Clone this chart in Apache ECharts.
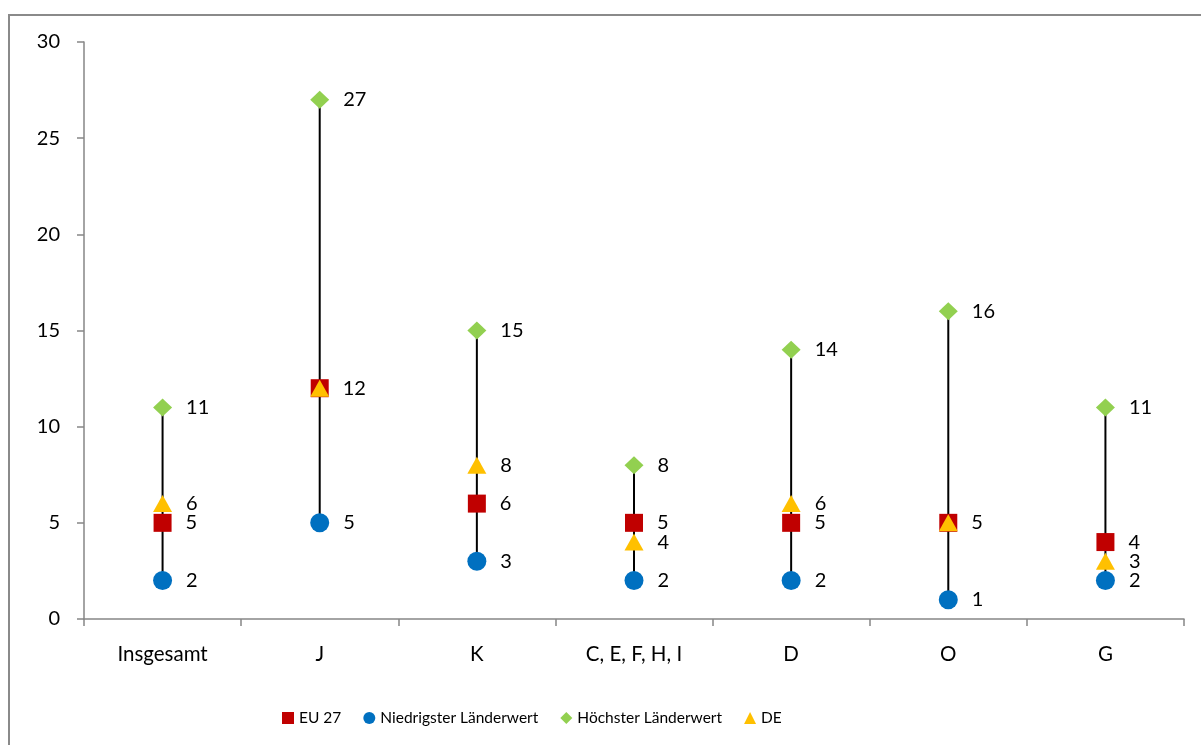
<!DOCTYPE html>
<html>
<head>
<meta charset="utf-8">
<script src="https://cdn.jsdelivr.net/npm/echarts@6/dist/echarts.min.js"></script>
<style>html,body{margin:0;padding:0;background:#fff}#c{width:1201px;height:745px}</style>
</head>
<body>
<div id="c"></div>
<script>
const categories = ['Insgesamt', 'J', 'K', 'C, E, F, H, I', 'D', 'O', 'G'];
const eu27 = [5, 12, 6, 5, 5, 5, 4];
const lowest = [2, 5, 3, 2, 2, 1, 2];
const highest = [11, 27, 15, 8, 14, 16, 11];
const de = [6, 12, 8, 4, 6, 5, 3];
const deLabelShown = [true, false, true, true, true, false, true];
const yTicks = { min: 0, max: 30, interval: 5 };

const FONT = 'Lato';
const labelStyle = { show: true, position: 'right', distance: 14, color: '#000', fontFamily: FONT, fontSize: 20 };

const chart = echarts.init(document.getElementById('c'), null, { renderer: 'canvas' });
chart.setOption({
  animation: false,
  backgroundColor: '#fff',
  graphic: [{
    type: 'rect', shape: { x: 9, y: 15, width: 1200, height: 740 },
    style: { fill: 'none', stroke: '#8a8a8a', lineWidth: 2 }, z: -1
  }],
  grid: { left: 84, right: 17, top: 42, bottom: 126 },
  legend: {
    left: 277, top: 705, itemWidth: 12, itemHeight: 12, itemGap: 22,
    textStyle: { fontFamily: FONT, fontSize: 15.5, color: '#000' },
    data: ['EU 27', 'Niedrigster Länderwert', 'Höchster Länderwert', 'DE']
  },
  xAxis: {
    type: 'category', data: categories, boundaryGap: true,
    axisLine: { lineStyle: { color: '#868686', width: 1.5 } },
    axisTick: { show: true, length: 7, lineStyle: { color: '#868686', width: 1.5 } },
    axisLabel: { fontFamily: FONT, fontSize: 20.5, color: '#000', margin: 25 }
  },
  yAxis: {
    type: 'value', min: yTicks.min, max: yTicks.max, interval: yTicks.interval,
    splitLine: { show: false },
    axisLine: { show: true, lineStyle: { color: '#868686', width: 1.5 } },
    axisTick: { show: true, length: 7, lineStyle: { color: '#868686', width: 1.5 } },
    axisLabel: { fontFamily: FONT, fontSize: 20, color: '#000', margin: 24 }
  },
  series: [
    {
      type: 'custom', name: 'range', silent: true, z: 1,
      data: categories.map((c, i) => [i, lowest[i], highest[i]]),
      renderItem: function (params, api) {
        const p1 = api.coord([api.value(0), api.value(1)]);
        const p2 = api.coord([api.value(0), api.value(2)]);
        return { type: 'line', shape: { x1: p1[0], y1: p1[1], x2: p2[0], y2: p2[1] }, style: { stroke: '#000', lineWidth: 2 } };
      }
    },
    {
      type: 'scatter', name: 'EU 27', z: 2, symbol: 'rect', symbolSize: 18,
      itemStyle: { color: '#C00000', opacity: 1 }, data: eu27, label: labelStyle
    },
    {
      type: 'scatter', name: 'Niedrigster Länderwert', z: 3, symbol: 'circle', symbolSize: 19,
      itemStyle: { color: '#0070C0', opacity: 1 }, data: lowest, label: labelStyle
    },
    {
      type: 'scatter', name: 'Höchster Länderwert', z: 4, symbol: 'diamond', symbolSize: [19, 18],
      itemStyle: { color: '#92D050', opacity: 1 }, data: highest, label: labelStyle
    },
    {
      type: 'scatter', name: 'DE', z: 5, symbol: 'triangle', symbolSize: [19, 17],
      itemStyle: { color: '#FFC000', opacity: 1 },
      data: de.map((v, i) => ({ value: v, label: { show: deLabelShown[i] } })),
      label: labelStyle
    }
  ]
});
</script>
</body>
</html>
